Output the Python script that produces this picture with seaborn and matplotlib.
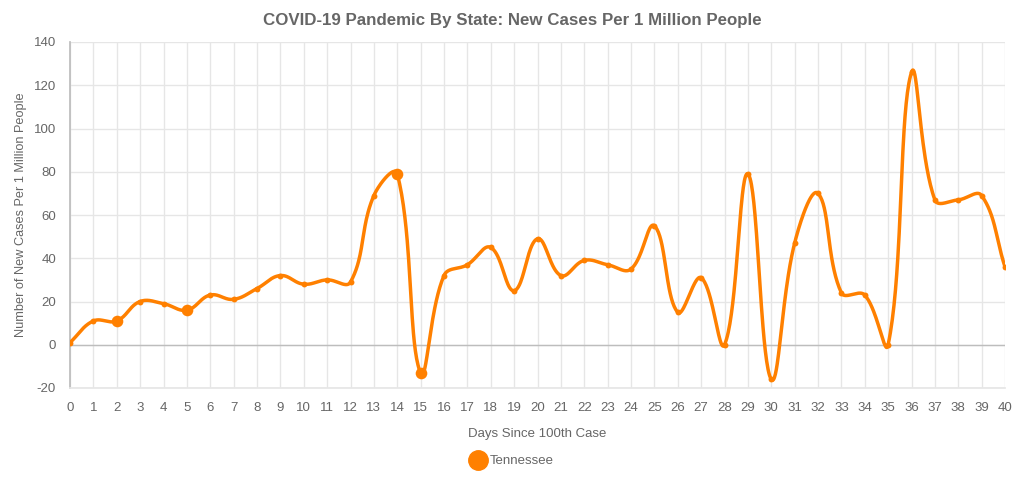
import numpy as np
import matplotlib
matplotlib.use("Agg")
import matplotlib.pyplot as plt
import seaborn as sns
from matplotlib.lines import Line2D

days = list(range(41))
cases = [1, 11, 11, 20, 19, 16, 23, 21, 26, 32, 28, 30, 29, 69, 79, -13, 32, 37, 45, 25,
         49, 32, 39, 37, 35, 55, 15, 31, 0, 79, -16, 47, 70, 24, 23, 0, 126, 67, 67, 69, 36]
highlight_days = [2, 5, 14, 15]
series_name = "Tennessee"

title = "COVID-19 Pandemic By State: New Cases Per 1 Million People"
xlabel = "Days Since 100th Case"
ylabel = "Number of New Cases Per 1 Million People"

ORANGE = "#ff8000"
GREY_TXT = "#666666"

sns.set_theme(style="white")
plt.rcParams['font.family'] = ['Liberation Sans', 'DejaVu Sans']
plt.rcParams['axes.unicode_minus'] = False

W, H = 1024, 487
fig = plt.figure(figsize=(W / 100, H / 100), dpi=100)
L, R, T, B = 70, 1005, 42, 388
ax = fig.add_axes([L / W, 1 - B / H, (R - L) / W, (B - T) / H])
ax.set_xlim(0, 40)
ax.set_ylim(-20, 140)

# Chart.js-like spline (tension 0.4) computed in pixel space
sx = (R - L) / 40.0
sy = (B - T) / 160.0
px = np.array(days, float) * sx
py = np.array(cases, float) * sy
n = len(px)
cp_prev = np.zeros((n, 2))
cp_next = np.zeros((n, 2))
t = 0.4
for i in range(n):
    p0 = np.array([px[max(i - 1, 0)], py[max(i - 1, 0)]])
    p1 = np.array([px[i], py[i]])
    p2 = np.array([px[min(i + 1, n - 1)], py[min(i + 1, n - 1)]])
    d01 = np.hypot(*(p1 - p0))
    d12 = np.hypot(*(p2 - p1))
    tot = d01 + d12
    s01 = d01 / tot if tot > 0 else 0
    s12 = d12 / tot if tot > 0 else 0
    cp_prev[i] = p1 - t * s01 * (p2 - p0)
    cp_next[i] = p1 + t * s12 * (p2 - p0)

bx, by = [], []
u = np.linspace(0, 1, 40)
for i in range(n - 1):
    P0 = np.array([px[i], py[i]])
    P1 = cp_next[i]
    P2 = cp_prev[i + 1]
    P3 = np.array([px[i + 1], py[i + 1]])
    pts = ((1 - u) ** 3)[:, None] * P0 + (3 * (1 - u) ** 2 * u)[:, None] * P1 \
        + (3 * (1 - u) * u ** 2)[:, None] * P2 + (u ** 3)[:, None] * P3
    if i > 0:
        pts = pts[1:]
    bx.extend(pts[:, 0] / sx)
    by.extend(pts[:, 1] / sy)

sns.lineplot(x=bx, y=by, sort=False, estimator=None, color=ORANGE, linewidth=2.5, ax=ax, zorder=3)
small = [(d, c) for d, c in zip(days, cases) if d not in highlight_days]
big = [(d, c) for d, c in zip(days, cases) if d in highlight_days]
sns.scatterplot(x=[d for d, _ in small], y=[c for _, c in small], color=ORANGE, s=18,
                edgecolor=ORANGE, linewidth=0, ax=ax, zorder=4)
sns.scatterplot(x=[d for d, _ in big], y=[c for _, c in big], color=ORANGE, s=70,
                edgecolor=ORANGE, linewidth=0, ax=ax, zorder=4)

ax.set_xticks(days)
ax.set_xticklabels([str(d) for d in days])
ax.set_yticks(list(range(-20, 141, 20)))
ax.grid(True, color="#e6e6e6", linewidth=1)
ax.axhline(0, color="#bdbdbd", linewidth=1, zorder=1)
for s in ["top", "right"]:
    ax.spines[s].set_visible(False)
ax.spines["left"].set_color("#bdbdbd")
ax.spines["bottom"].set_color("#e6e6e6")
ax.tick_params(axis="both", colors=GREY_TXT, labelsize=9.5, length=8, width=1, pad=2)
ax.tick_params(axis="both", color="#e6e6e6")

ax.set_xlabel(xlabel, color=GREY_TXT, fontsize=9.5, labelpad=10)
ax.set_ylabel(ylabel, color=GREY_TXT, fontsize=9.2, labelpad=5)
fig.text(0.5, 1 - 20 / H, title, ha="center", va="center", fontsize=12.2,
         fontweight="bold", color=GREY_TXT)

handle = Line2D([], [], marker="o", linestyle="none", markersize=14, color=ORANGE)
fig.legend([handle], [series_name], loc="center", bbox_to_anchor=(0.5, 1 - 461 / H),
           frameon=False, fontsize=9.5, labelcolor=GREY_TXT, handlelength=1.2,
           handletextpad=0.3, borderaxespad=0)

fig.savefig("out.png", dpi=100)
